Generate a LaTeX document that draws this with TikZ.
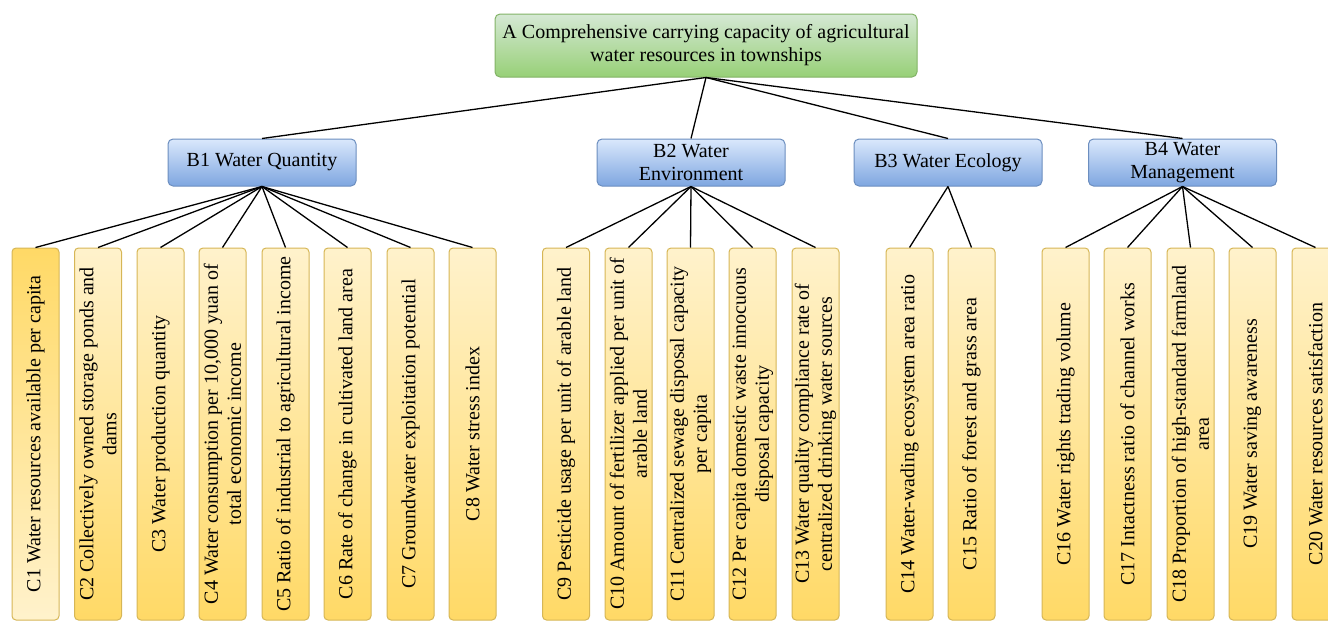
\documentclass[tikz,border=0pt]{standalone}
\usepackage{fontspec}
\setmainfont{Liberation Serif}
\definecolor{goalfill1}{HTML}{D5E8D4}
\definecolor{goalfill2}{HTML}{97D077}
\definecolor{goalline}{HTML}{82B366}
\definecolor{critfill1}{HTML}{DAE8FC}
\definecolor{critfill2}{HTML}{7EA6E0}
\definecolor{critline}{HTML}{6C8EBF}
\definecolor{indfill1}{HTML}{FFF2CC}
\definecolor{indfill2}{HTML}{FFD966}
\definecolor{indline}{HTML}{D6B656}
\begin{document}
\begin{tikzpicture}[x=1pt,y=-1pt,
  every node/.style={font=\fontsize{20}{23}\selectfont, inner sep=2pt, align=center},
  goalbox/.style={draw=goalline, line width=1pt, rounded corners=5pt,
    top color=goalfill1, bottom color=goalfill2,
    minimum width=422pt, minimum height=63pt},
  critbox/.style={draw=critline, line width=1pt, rounded corners=5pt,
    top color=critfill1, bottom color=critfill2,
    minimum width=188pt, minimum height=47pt},
  indbox/.style={draw=indline, line width=1pt, rounded corners=4pt, rotate=90,
    top color=indfill1, bottom color=indfill2,
    minimum width=372pt, minimum height=47pt},
  indboxrev/.style={indbox, top color=indfill2, bottom color=indfill1},
  link/.style={draw=black, line width=1.3pt}
]
\useasboundingbox (0,0) rectangle (1328,621);

% goal level
\node[goalbox] (a) at (706,45.5) {A Comprehensive carrying capacity of agricultural\\water resources in townships};

% criterion level
\node[critbox] (b1) at (262,162.5) {B1 Water Quantity};
\node[critbox] (b2) at (691,162.5) {B2 Water\\Environment};
\node[critbox] (b3) at (948,162.5) {B3 Water Ecology};
\node[critbox] (b4) at (1182.5,162.5) {B4 Water\\Management};

% indicator level
\node[indboxrev] (c1) at (35.5,434) {C1 Water resources available per capita};
\node[indbox] (c2) at (98,434) {C2 Collectively owned storage ponds and\\dams};
\node[indbox] (c3) at (160.5,434) {C3 Water production quantity};
\node[indbox] (c4) at (222.5,434) {C4 Water consumption per 10,000 yuan of\\total economic income};
\node[indbox] (c5) at (285.5,434) {C5 Ratio of industrial to agricultural income};
\node[indbox] (c6) at (347.5,434) {C6 Rate of change in cultivated land area};
\node[indbox] (c7) at (410.5,434) {C7 Groundwater exploitation potential};
\node[indbox] (c8) at (472.5,434) {C8 Water stress index};
\node[indbox] (c9) at (566,434) {C9 Pesticide usage per unit of arable land};
\node[indbox] (c10) at (628.5,434) {C10 Amount of fertilizer applied per unit of\\arable land};
\node[indbox] (c11) at (690.5,434) {C11 Centralized sewage disposal capacity\\per capita};
\node[indbox] (c12) at (752.5,434) {C12 Per capita domestic waste innocuous\\disposal capacity};
\node[indbox] (c13) at (815.5,434) {C13 Water quality compliance rate of\\centralized drinking water sources};
\node[indbox] (c14) at (909.5,434) {C14 Water-wading ecosystem area ratio};
\node[indbox] (c15) at (971.5,434) {C15 Ratio of forest and grass area};
\node[indbox] (c16) at (1065.5,434) {C16 Water rights trading volume};
\node[indbox] (c17) at (1127.5,434) {C17 Intactness ratio of channel works};
\node[indbox] (c18) at (1190.5,434) {C18 Proportion of high-standard farmland\\area};
\node[indbox] (c19) at (1252.5,434) {C19 Water saving awareness};
\node[indbox] (c20) at (1315.5,434) {C20 Water resources satisfaction};

% goal to criteria
\foreach \b in {b1,b2,b3,b4}
  \draw[link] (a.south) -- (\b.north);

% criteria to indicators (page top of a rotated box is its east anchor)
\foreach \c in {c1,c2,c3,c4,c5,c6,c7,c8}
  \draw[link] (b1.south) -- (\c.east);
\foreach \c in {c9,c10,c11,c12,c13}
  \draw[link] (b2.south) -- (\c.east);
\foreach \c in {c14,c15}
  \draw[link] (b3.south) -- (\c.east);
\foreach \c in {c16,c17,c18,c19,c20}
  \draw[link] (b4.south) -- (\c.east);
\end{tikzpicture}
\end{document}
